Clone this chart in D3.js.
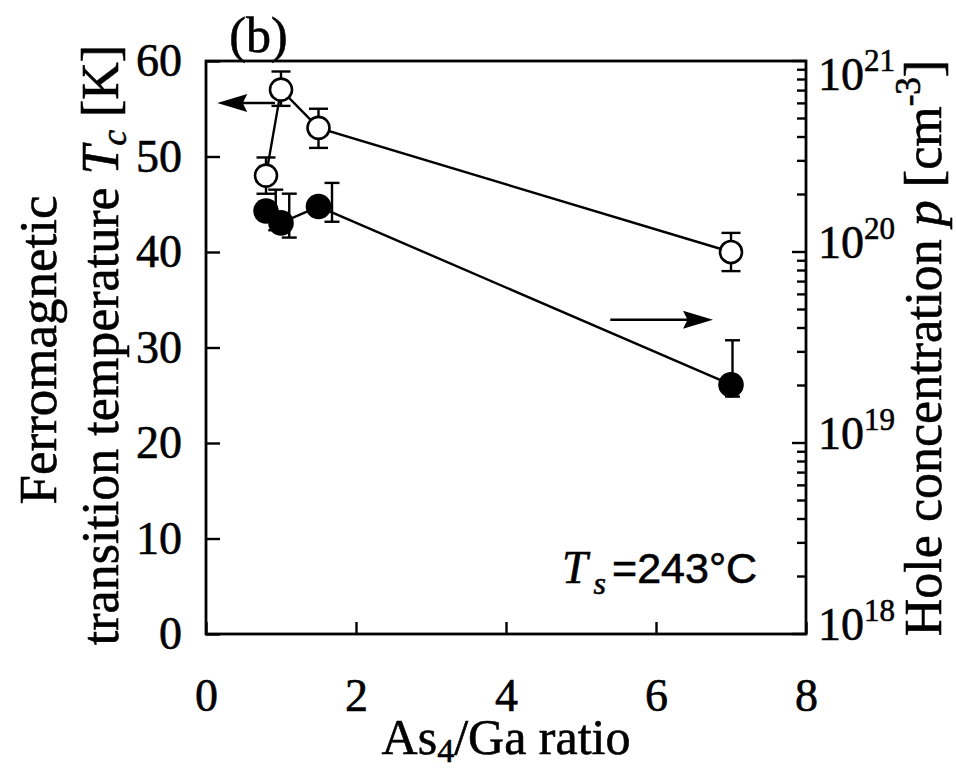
<!DOCTYPE html>
<html>
<head>
<meta charset="utf-8">
<script src="https://cdn.jsdelivr.net/npm/d3@7"></script>
<style>
  html, body { margin: 0; padding: 0; background: #fff; }
  svg { display: block; }
  text { font-family: "Liberation Serif", "Times New Roman", serif; fill: #000; stroke: #000; stroke-width: 0.6px; }
</style>
</head>
<body>
<svg id="chart" width="956" height="775"></svg>
<script>
// As4/Ga flux ratio of each sample
const ratio = [0.8, 1.0, 1.5, 7.0];

// Curie temperature Tc [K] with error range
const tcValues = [48, 57, 53, 40];
const tcLow    = [46.1, 55.3, 50.9, 38.0];
const tcHigh   = [49.9, 58.9, 55.0, 42.0];

// Hole concentration p [cm^-3] with error range (bars drawn slightly to the right)
const pValues = [1.64e20, 1.42e20, 1.73e20, 2.02e19];
const pLow    = [1.30e20, 1.19e20, 1.44e20, 1.75e19];
const pHigh   = [2.12e20, 2.02e20, 2.30e20, 3.45e19];
const pBarX   = [0.93, 1.11, 1.68, 7.02];

// Axis ticks
const xTicks = [0, 2, 4, 6, 8];
const tcTicks = [0, 10, 20, 30, 40, 50, 60];
const pDecades = [18, 19, 20, 21];

const svg = d3.select("#chart");
const pL = 206, pR = 806, pT = 61, pB = 634;

const x = d3.scaleLinear().domain([0, 8]).range([pL, pR]);
const yT = d3.scaleLinear().domain([0, 60]).range([pB, pT]);
const yP = d3.scaleLog().domain([1e18, 1e21]).range([pB, pT]);

const lw = 2.4;

// Frame
svg.append("rect")
  .attr("x", pL).attr("y", pT)
  .attr("width", pR - pL).attr("height", pB - pT)
  .attr("fill", "none").attr("stroke", "#000").attr("stroke-width", 2.8);

// Bottom axis (ticks pointing inward)
const xAxis = d3.axisBottom(x).tickValues(xTicks).tickSizeInner(-12).tickSizeOuter(0).tickPadding(66);
const gx = svg.append("g").attr("transform", `translate(0,${pB})`).call(xAxis);
gx.select(".domain").remove();
gx.selectAll(".tick line").attr("stroke", "#000").attr("stroke-width", lw);
gx.selectAll(".tick text").attr("font-size", 46).attr("font-family", "Liberation Serif").attr("dy", "0.23em");

// Left axis
const yAxisL = d3.axisLeft(yT).tickValues(tcTicks).tickSizeInner(-14).tickSizeOuter(0).tickPadding(24);
const gl = svg.append("g").attr("transform", `translate(${pL},0)`).call(yAxisL);
gl.select(".domain").remove();
gl.selectAll(".tick line").attr("stroke", "#000").attr("stroke-width", lw);
gl.selectAll(".tick text").attr("font-size", 46).attr("font-family", "Liberation Serif");

// Right log axis: major and minor ticks pointing inward
const pMinor = [];
for (let e = 18; e < 21; e++) for (let m = 2; m <= 9; m++) pMinor.push(m * Math.pow(10, e));
const gr = svg.append("g");
gr.selectAll("line.minor").data(pMinor).join("line")
  .attr("x1", pR - 9).attr("x2", pR)
  .attr("y1", d => yP(d)).attr("y2", d => yP(d))
  .attr("stroke", "#000").attr("stroke-width", lw);
gr.selectAll("line.major").data(pDecades.map(e => Math.pow(10, e))).join("line")
  .attr("x1", pR - 14).attr("x2", pR)
  .attr("y1", d => yP(d)).attr("y2", d => yP(d))
  .attr("stroke", "#000").attr("stroke-width", lw);

const rl = gr.selectAll("text.rl").data(pDecades).join("text")
  .attr("x", pR + 12)
  .attr("y", d => Math.max(yP(Math.pow(10, d)) - 10, pT + 13) + 16)
  .attr("font-size", 46);
rl.append("tspan").text("10");
rl.append("tspan").attr("font-size", 31).attr("dy", -19).text(d => d);

// Connecting lines
const line = d3.line();
svg.append("path")
  .attr("d", line(ratio.map((r, i) => [x(r), yT(tcValues[i])])))
  .attr("fill", "none").attr("stroke", "#000").attr("stroke-width", lw);
svg.append("path")
  .attr("d", line(ratio.map((r, i) => [x(r), yP(pValues[i])])))
  .attr("fill", "none").attr("stroke", "#000").attr("stroke-width", lw);

// Error bars
function errorBars(cx, lo, hi, cap) {
  const g = svg.append("g").attr("stroke", "#000").attr("stroke-width", lw);
  cx.forEach((xv, i) => {
    g.append("line").attr("x1", xv).attr("x2", xv).attr("y1", lo[i]).attr("y2", hi[i]);
    g.append("line").attr("x1", xv - cap / 2).attr("x2", xv + cap / 2).attr("y1", lo[i]).attr("y2", lo[i]);
    g.append("line").attr("x1", xv - cap / 2).attr("x2", xv + cap / 2).attr("y1", hi[i]).attr("y2", hi[i]);
  });
}
errorBars(ratio.map(x), tcLow.map(yT), tcHigh.map(yT), 19);
errorBars(pBarX.map(x), pLow.map(yP), pHigh.map(yP), 15);

// Markers: filled = hole concentration, open = Tc
svg.selectAll("circle.p").data(ratio).join("circle")
  .attr("cx", d => x(d)).attr("cy", (d, i) => yP(pValues[i]))
  .attr("r", 12.8).attr("fill", "#000");
svg.selectAll("circle.tc").data(ratio).join("circle")
  .attr("cx", d => x(d)).attr("cy", (d, i) => yT(tcValues[i]))
  .attr("r", 11).attr("fill", "#fff").attr("stroke", "#000").attr("stroke-width", 2.6);

// Arrows pointing to the axis each series belongs to
function arrow(x0, x1, yPix) {
  const dir = Math.sign(x1 - x0), head = 30, half = 9;
  svg.append("line").attr("x1", x0).attr("x2", x1 - dir * head / 2).attr("y1", yPix).attr("y2", yPix)
    .attr("stroke", "#000").attr("stroke-width", lw);
  svg.append("path")
    .attr("d", `M${x1},${yPix} L${x1 - dir * head},${yPix - half} L${x1 - dir * head * 0.85},${yPix} L${x1 - dir * head},${yPix + half} Z`)
    .attr("fill", "#000");
}
arrow(x(0.92), x(0.15), yT(55.6));
arrow(x(5.39), x(6.76), yT(32.9));

// Panel label
svg.append("text").attr("x", x(0.7)).attr("y", 52).attr("text-anchor", "middle")
  .attr("font-size", 50).text("(b)");

// Growth temperature annotation
const ts = svg.append("text").attr("x", 562).attr("y", 583).attr("font-size", 46);
ts.append("tspan").attr("font-style", "italic").text("T");
ts.append("tspan").attr("font-style", "italic").attr("font-size", 32).attr("dx", 6).attr("dy", 11).text("s");
ts.append("tspan").attr("font-family", "Liberation Sans").attr("font-size", 43).attr("dx", 6).attr("dy", -11).text("=243°C");

// X axis title
const xt = svg.append("text").attr("x", 506).attr("y", 754).attr("text-anchor", "middle").attr("font-size", 50);
xt.append("tspan").text("As");
xt.append("tspan").attr("font-size", 34).attr("dy", 8).text("4");
xt.append("tspan").attr("dy", -8).text("/Ga ratio");

// Left axis title (two lines)
svg.append("text").attr("transform", "translate(56,350) rotate(-90)")
  .attr("text-anchor", "middle").attr("font-size", 53).text("Ferromagnetic");
const lt = svg.append("text").attr("transform", "translate(118,345) rotate(-90)")
  .attr("text-anchor", "middle").attr("font-size", 52);
lt.append("tspan").text("transition temperature ");
lt.append("tspan").attr("font-style", "italic").text("T");
lt.append("tspan").attr("font-style", "italic").attr("font-size", 35).attr("dy", 8).text("c");
lt.append("tspan").attr("dy", -8).text(" [K]");

// Right axis title
const rt = svg.append("text").attr("transform", "translate(941,348) rotate(-90)")
  .attr("text-anchor", "middle").attr("font-size", 52);
rt.append("tspan").text("Hole concentration ");
rt.append("tspan").attr("font-style", "italic").text("p");
rt.append("tspan").text(" [cm");
rt.append("tspan").attr("font-size", 35).attr("dy", -21).text("-3");
rt.append("tspan").attr("dy", 21).text("]");
</script>
</body>
</html>
